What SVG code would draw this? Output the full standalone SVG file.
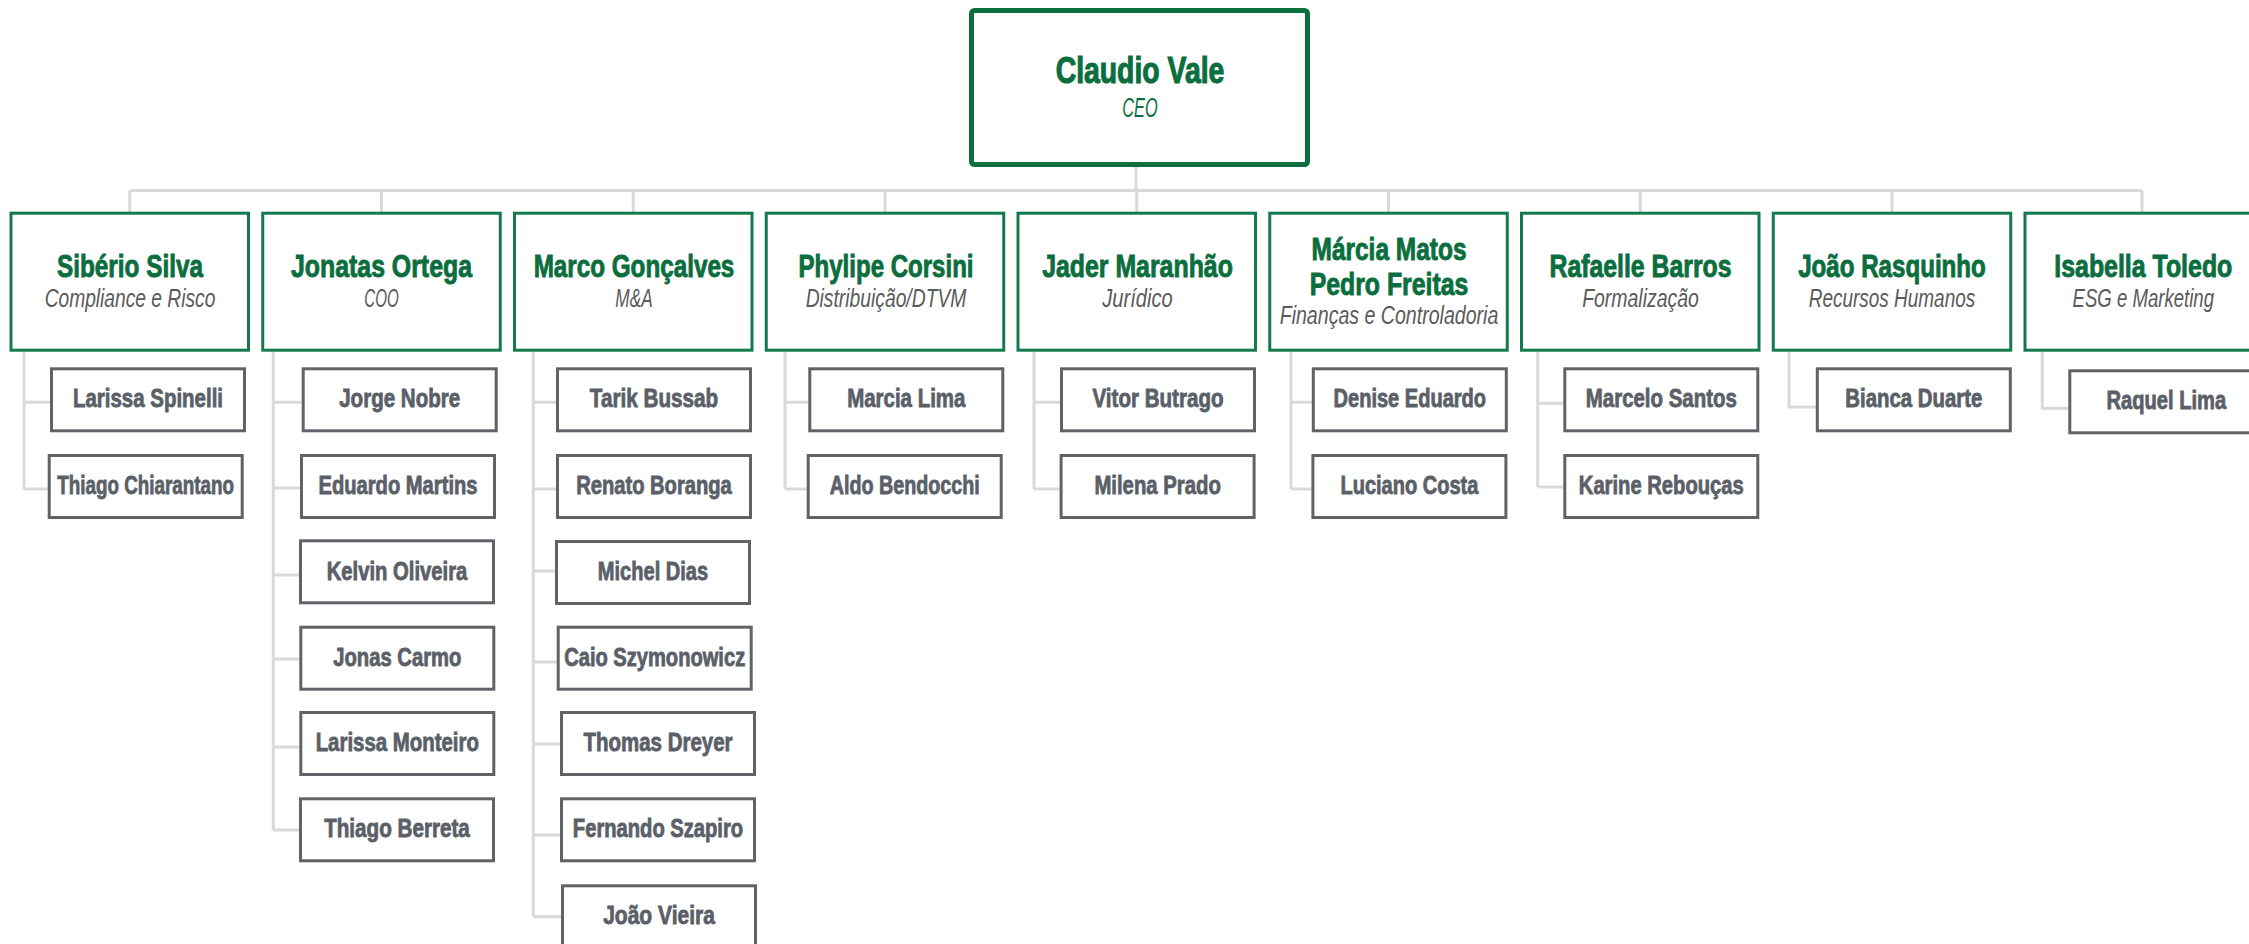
<svg xmlns="http://www.w3.org/2000/svg" width="2249" height="944" viewBox="0 0 2249 944">
<style>
.bg{fill:#ffffff}
.ceo{fill:#ffffff;stroke:#0b7040;stroke-width:5}
.top{fill:#ffffff;stroke:#137a4c;stroke-width:3}
.child{fill:#ffffff;stroke:#5f6368;stroke-width:3}
.conn{fill:none;stroke:#d9d9d9;stroke-width:3}
.nm{font-family:"Liberation Sans Narrow","Liberation Sans",Arial,sans-serif;font-weight:bold;fill:#0b6e3e;stroke:#0b6e3e;stroke-width:0.9;text-anchor:middle;font-size:31px}
.ceonm{font-size:36px;stroke-width:1.1}
.sub{font-family:"Liberation Sans Narrow","Liberation Sans",Arial,sans-serif;font-style:italic;fill:#5a5a5a;text-anchor:middle;font-size:26px}
.ceosub{fill:#0b7040;font-size:27px}
.cn{font-family:"Liberation Sans Narrow","Liberation Sans",Arial,sans-serif;font-weight:bold;fill:#5b6068;stroke:#5b6068;stroke-width:0.8;text-anchor:middle;font-size:25px}
</style>
<rect class="bg" x="0" y="0" width="2249" height="944"/>

<g id="connectors">
<path class="conn" d="M1136 167 V190.5 M130 190.5 H2142 M129.75 190.5 V212 M381.5 190.5 V212 M633.25 190.5 V212 M885 190.5 V212 M1136.75 190.5 V212 M1388.5 190.5 V212 M1640.25 190.5 V212 M1892 190.5 V212 M2142 190.5 V212"/>
<path class="conn" d="M24 352 V489 M24 402.3 H50 M24 489 H47.7"/>
<path class="conn" d="M273.3 352 V830 M273.3 402.3 H301.7 M273.3 488 H300 M273.3 575 H299 M273.3 659 H299.3 M273.3 747 H299.3 M273.3 830 H299"/>
<path class="conn" d="M533.3 352 V916.7 M533.3 402.3 H556 M533.3 489 H556 M533.3 571 H555 M533.3 662 H556.7 M533.3 744 H560 M533.3 835 H560 M533.3 916.7 H561"/>
<path class="conn" d="M785 352 V489 M785 402.3 H808.3 M785 489 H806.7"/>
<path class="conn" d="M1034 352 V489 M1034 402.3 H1060 M1034 489 H1059.6"/>
<path class="conn" d="M1291 352 V489 M1291 402.3 H1311.8 M1291 489 H1311.4"/>
<path class="conn" d="M1537.7 352 V487 M1537.7 403.3 H1563.3 M1537.7 487 H1563.3"/>
<path class="conn" d="M1789 352 V407 H1815.8"/>
<path class="conn" d="M2042.3 352 V408.3 H2068.3"/>
</g>

<g id="ceo">
<rect class="ceo" x="971.5" y="10.5" width="336" height="154" rx="3"/>
<text class="nm ceonm" x="1140" y="83" textLength="168.7" lengthAdjust="spacingAndGlyphs">Claudio Vale</text>
<text class="sub ceosub" x="1140" y="117" textLength="35.3" lengthAdjust="spacingAndGlyphs">CEO</text>
</g>

<g id="siberio-silva">
<rect class="top" x="11" y="213.2" width="237.5" height="137"/>
<text class="nm" x="130" y="277" textLength="146" lengthAdjust="spacingAndGlyphs">Sibério Silva</text>
<text class="sub" x="130" y="307" textLength="170.7" lengthAdjust="spacingAndGlyphs">Compliance e Risco</text>
</g>
<g id="jonatas-ortega">
<rect class="top" x="262.75" y="213.2" width="237.5" height="137"/>
<text class="nm" x="381.5" y="277" textLength="181" lengthAdjust="spacingAndGlyphs">Jonatas Ortega</text>
<text class="sub" x="381.5" y="307" textLength="34.3" lengthAdjust="spacingAndGlyphs">COO</text>
</g>
<g id="marco-goncalves">
<rect class="top" x="514.5" y="213.2" width="237.5" height="137"/>
<text class="nm" x="634" y="277" textLength="200.7" lengthAdjust="spacingAndGlyphs">Marco Gonçalves</text>
<text class="sub" x="634" y="307" textLength="37.3" lengthAdjust="spacingAndGlyphs">M&amp;A</text>
</g>
<g id="phylipe-corsini">
<rect class="top" x="766.25" y="213.2" width="237.5" height="137"/>
<text class="nm" x="886" y="277" textLength="175" lengthAdjust="spacingAndGlyphs">Phylipe Corsini</text>
<text class="sub" x="886" y="307" textLength="160.7" lengthAdjust="spacingAndGlyphs">Distribuição/DTVM</text>
</g>
<g id="jader-maranhao">
<rect class="top" x="1018" y="213.2" width="237.5" height="137"/>
<text class="nm" x="1137.5" y="277" textLength="190.7" lengthAdjust="spacingAndGlyphs">Jader Maranhão</text>
<text class="sub" x="1137.5" y="307" textLength="70.4" lengthAdjust="spacingAndGlyphs">Jurídico</text>
</g>
<g id="marcia-matos-pedro-freitas">
<rect class="top" x="1269.75" y="213.2" width="237.5" height="137"/>
<text class="nm" x="1389" y="260" textLength="155" lengthAdjust="spacingAndGlyphs">Márcia Matos</text>
<text class="nm" x="1389" y="295" textLength="158.6" lengthAdjust="spacingAndGlyphs">Pedro Freitas</text>
<text class="sub" x="1389" y="324" textLength="218.6" lengthAdjust="spacingAndGlyphs">Finanças e Controladoria</text>
</g>
<g id="rafaelle-barros">
<rect class="top" x="1521.5" y="213.2" width="237.5" height="137"/>
<text class="nm" x="1640.5" y="277" textLength="182" lengthAdjust="spacingAndGlyphs">Rafaelle Barros</text>
<text class="sub" x="1640.5" y="307" textLength="116.7" lengthAdjust="spacingAndGlyphs">Formalização</text>
</g>
<g id="joao-rasquinho">
<rect class="top" x="1773.25" y="213.2" width="237.5" height="137"/>
<text class="nm" x="1892" y="277" textLength="187.6" lengthAdjust="spacingAndGlyphs">João Rasquinho</text>
<text class="sub" x="1892" y="307" textLength="166.4" lengthAdjust="spacingAndGlyphs">Recursos Humanos</text>
</g>
<g id="isabella-toledo">
<rect class="top" x="2025" y="213.2" width="237.5" height="137"/>
<text class="nm" x="2143.3" y="277" textLength="178" lengthAdjust="spacingAndGlyphs">Isabella Toledo</text>
<text class="sub" x="2143.3" y="307" textLength="141.5" lengthAdjust="spacingAndGlyphs">ESG e Marketing</text>
</g>

<g id="larissa-spinelli"><rect class="child" x="51.5" y="368.8" width="193" height="62"/><text class="cn" x="148" y="407.3" textLength="150" lengthAdjust="spacingAndGlyphs">Larissa Spinelli</text></g>
<g id="thiago-chiarantano"><rect class="child" x="49.2" y="455.5" width="193" height="62"/><text class="cn" x="145.7" y="494" textLength="176.7" lengthAdjust="spacingAndGlyphs">Thiago Chiarantano</text></g>

<g id="jorge-nobre"><rect class="child" x="303.2" y="368.8" width="193" height="62"/><text class="cn" x="399.7" y="407.3" textLength="121" lengthAdjust="spacingAndGlyphs">Jorge Nobre</text></g>
<g id="eduardo-martins"><rect class="child" x="301.5" y="455.5" width="193" height="62"/><text class="cn" x="398" y="494" textLength="159" lengthAdjust="spacingAndGlyphs">Eduardo Martins</text></g>
<g id="kelvin-oliveira"><rect class="child" x="300.5" y="540.8" width="193" height="62"/><text class="cn" x="397" y="579.5" textLength="140.7" lengthAdjust="spacingAndGlyphs">Kelvin Oliveira</text></g>
<g id="jonas-carmo"><rect class="child" x="300.8" y="627.2" width="193" height="62"/><text class="cn" x="397.3" y="665.7" textLength="128" lengthAdjust="spacingAndGlyphs">Jonas Carmo</text></g>
<g id="larissa-monteiro"><rect class="child" x="300.8" y="712.5" width="193" height="62"/><text class="cn" x="397.3" y="751" textLength="163.3" lengthAdjust="spacingAndGlyphs">Larissa Monteiro</text></g>
<g id="thiago-berreta"><rect class="child" x="300.5" y="798.8" width="193" height="62"/><text class="cn" x="397" y="837.3" textLength="145.7" lengthAdjust="spacingAndGlyphs">Thiago Berreta</text></g>

<g id="tarik-bussab"><rect class="child" x="557.5" y="368.8" width="193" height="62"/><text class="cn" x="654" y="407.3" textLength="128.3" lengthAdjust="spacingAndGlyphs">Tarik Bussab</text></g>
<g id="renato-boranga"><rect class="child" x="557.5" y="455.5" width="193" height="62"/><text class="cn" x="654" y="494" textLength="155.7" lengthAdjust="spacingAndGlyphs">Renato Boranga</text></g>
<g id="michel-dias"><rect class="child" x="556.5" y="541.5" width="193" height="62"/><text class="cn" x="653" y="580" textLength="110.3" lengthAdjust="spacingAndGlyphs">Michel Dias</text></g>
<g id="caio-szymonowicz"><rect class="child" x="558.2" y="627.2" width="193" height="62"/><text class="cn" x="654.7" y="665.7" textLength="181" lengthAdjust="spacingAndGlyphs">Caio Szymonowicz</text></g>
<g id="thomas-dreyer"><rect class="child" x="561.5" y="712.5" width="193" height="62"/><text class="cn" x="658" y="751" textLength="149" lengthAdjust="spacingAndGlyphs">Thomas Dreyer</text></g>
<g id="fernando-szapiro"><rect class="child" x="561.5" y="798.8" width="193" height="62"/><text class="cn" x="658" y="837.3" textLength="170.3" lengthAdjust="spacingAndGlyphs">Fernando Szapiro</text></g>
<g id="joao-vieira"><rect class="child" x="562.5" y="885.8" width="193" height="62"/><text class="cn" x="659" y="924.3" textLength="111.7" lengthAdjust="spacingAndGlyphs">João Vieira</text></g>

<g id="marcia-lima"><rect class="child" x="809.8" y="368.8" width="193" height="62"/><text class="cn" x="906.3" y="407.3" textLength="118.3" lengthAdjust="spacingAndGlyphs">Marcia Lima</text></g>
<g id="aldo-bendocchi"><rect class="child" x="808.2" y="455.5" width="193" height="62"/><text class="cn" x="904.7" y="494" textLength="150" lengthAdjust="spacingAndGlyphs">Aldo Bendocchi</text></g>

<g id="vitor-butrago"><rect class="child" x="1061.5" y="368.8" width="193" height="62"/><text class="cn" x="1158" y="407.3" textLength="131" lengthAdjust="spacingAndGlyphs">Vitor Butrago</text></g>
<g id="milena-prado"><rect class="child" x="1061.1" y="455.5" width="193" height="62"/><text class="cn" x="1157.6" y="494" textLength="126.4" lengthAdjust="spacingAndGlyphs">Milena Prado</text></g>

<g id="denise-eduardo"><rect class="child" x="1313.3" y="368.8" width="193" height="62"/><text class="cn" x="1409.8" y="407.3" textLength="152.5" lengthAdjust="spacingAndGlyphs">Denise Eduardo</text></g>
<g id="luciano-costa"><rect class="child" x="1312.9" y="455.5" width="193" height="62"/><text class="cn" x="1409.4" y="494" textLength="137.9" lengthAdjust="spacingAndGlyphs">Luciano Costa</text></g>

<g id="marcelo-santos"><rect class="child" x="1564.8" y="368.8" width="193" height="62"/><text class="cn" x="1661.3" y="407.3" textLength="151" lengthAdjust="spacingAndGlyphs">Marcelo Santos</text></g>
<g id="karine-reboucas"><rect class="child" x="1564.8" y="455.5" width="193" height="62"/><text class="cn" x="1661.3" y="494" textLength="165" lengthAdjust="spacingAndGlyphs">Karine Rebouças</text></g>

<g id="bianca-duarte"><rect class="child" x="1817.3" y="368.8" width="193" height="62"/><text class="cn" x="1913.8" y="407.3" textLength="137" lengthAdjust="spacingAndGlyphs">Bianca Duarte</text></g>

<g id="raquel-lima"><rect class="child" x="2069.8" y="370.8" width="193" height="62"/><text class="cn" x="2166.3" y="409.3" textLength="119.8" lengthAdjust="spacingAndGlyphs">Raquel Lima</text></g>
</svg>
